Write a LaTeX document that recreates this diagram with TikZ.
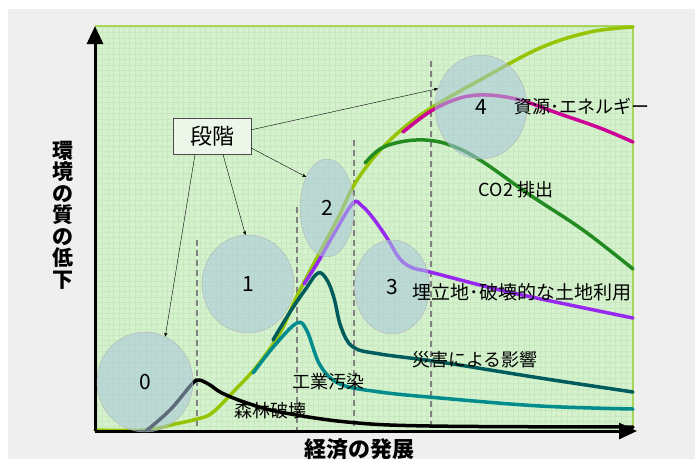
\documentclass[tikz,border=0pt]{standalone}
\usepackage{fontspec}
\setmainfont{Noto Sans CJK JP}
\usetikzlibrary{arrows,arrows.meta,shapes}

\definecolor{bggray}{RGB}{239,239,239}
\definecolor{plotgreen}{RGB}{214,241,206}
\definecolor{gridgreen}{RGB}{198,234,190}
\definecolor{edgegreen}{RGB}{168,214,90}
\definecolor{stagefill}{RGB}{168,198,222}
\definecolor{boxfill}{RGB}{236,247,233}
\definecolor{lime}{RGB}{150,196,0}
\definecolor{energy}{RGB}{204,0,150}
\definecolor{cotwo}{RGB}{34,139,34}
\definecolor{land}{RGB}{150,40,240}
\definecolor{disaster}{RGB}{0,92,92}
\definecolor{industry}{RGB}{0,140,140}

\begin{document}
\begin{tikzpicture}[x=1pt,y=-1pt,>=stealth',
  stage/.style={ellipse,draw=gray!60,fill=stagefill,fill opacity=0.55,text opacity=1,
    inner sep=0pt,font=\fontsize{21}{21}\selectfont},
  curve/.style={line width=3.5pt,line cap=round,smooth,tension=0.6},
  lbl/.style={inner sep=0pt,font=\fontsize{18}{18}\selectfont},
  phase/.style={gray,line width=1.5pt,dash pattern=on 6pt off 4pt},
  axis/.style={line width=3pt,-{Triangle[length=18pt,width=16pt]}}]
  \useasboundingbox (0,0) rectangle (695,459);
  \fill[bggray] (8,9) rectangle (695,459);
  \fill[plotgreen] (95,26) rectangle (633,431);
  \draw[gridgreen,line width=0.3pt,step=5.4pt] (95,26) grid (633,431);
  \draw[edgegreen,line width=1.5pt] (95,26) -- (633,26) -- (633,431);

  % phase borders
  \foreach \x/\y in {197/240,297/207,354/140,431/61}
    \draw[phase] (\x,\y) -- (\x,430);

  % curves
  \draw[curve,lime] plot coordinates {(95,430) (145,430) (175,424) (197,419) (212,413)
    (235,390) (257,366) (280,333) (297,296) (320,252) (340,214) (354,185) (375,156)
    (400,131) (431,108) (480,80) (540,48) (590,32) (633,27)};
  \draw[curve,energy] plot coordinates {(403,132) (431,111) (460,98) (487,95) (520,100)
    (560,114) (600,128) (633,142)};
  \draw[curve,cotwo] plot coordinates {(365,163) (380,149) (400,142) (425,140) (450,145)
    (480,160) (530,195) (583,230) (633,269)};
  \draw[curve,land] plot coordinates {(304,284) (318,262) (335,232) (353,203) (362,206)
    (373,218) (387,238) (400,259) (413,268) (430,272) (500,290) (570,305) (633,318)};
  \draw[curve,disaster] plot coordinates {(273,340) (290,312) (305,290) (318,273)
    (327,280) (334,298) (341,327) (353,347) (380,354) (440,362) (540,378) (633,392)};
  \draw[curve,industry] plot coordinates {(253,373) (275,345) (297,323) (307,331)
    (320,365) (340,384) (380,392) (440,398) (540,406) (633,409)};
  \draw[curve,black] plot coordinates {(146,431) (170,410) (192,384) (199,380) (210,385)
    (222,393) (247,403) (280,412) (347,422) (430,426) (633,427)};

  % axes
  \draw[axis] (95,431) -- (95,26);
  \draw[axis] (95,431) -- (637,431);
  \node[font=\bfseries\fontsize{21}{21.5}\selectfont,align=center] (ylab) at (63,215)
    {環\\境\\の\\質\\の\\低\\下};
  \node[font=\bfseries\fontsize{22}{22}\selectfont] (xlab) at (359,449) {経済の発展};

  % stages
  \node[stage,minimum width=96,minimum height=100] (c0) at (145,382) {0};
  \node[stage,minimum width=92,minimum height=98] (c1) at (248,284) {1};
  \node[stage,minimum width=54,minimum height=98] (c2) at (327,208) {2};
  \node[stage,minimum width=75,minimum height=94] (c3) at (392,287) {3};
  \node[stage,minimum width=92,minimum height=104] (c4) at (481,107) {4};

  % labels
  \node[lbl] (res) at (582,107) {資源･エネルギー};
  \node[lbl] (co2) at (516,190) {CO2 排出};
  \node[lbl,font=\fontsize{19}{19}\selectfont] (use) at (522,292) {埋立地･破壊的な土地利用};
  \node[lbl] (dis) at (475,360) {災害による影響};
  \node[lbl] (ind) at (328,382) {工業汚染};
  \node[lbl] (for) at (270,411) {森林破壊};

  \node[draw=gray!60!black,fill=boxfill,inner sep=0pt,minimum width=78,minimum height=36,
    font=\fontsize{22}{22}\selectfont] (stg) at (212,136) {段階};
  \path[->] (stg.227) edge (c0.66);
  \path[->] (stg.301) edge (c1.93);
  \path[->] (stg.343) edge (c2.124);
  \path[->] (stg.9)   edge (c4.157);
\end{tikzpicture}
\end{document}
